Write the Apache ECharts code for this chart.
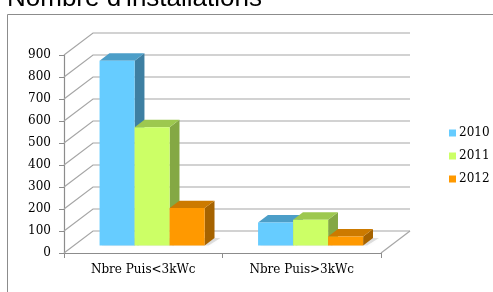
<!DOCTYPE html>
<html>
<head>
<meta charset="utf-8">
<script src="https://cdn.jsdelivr.net/npm/echarts@6/dist/echarts.min.js"></script>
<style>
  html, body { margin: 0; padding: 0; background: #fff; }
  #chart { width: 493px; height: 292px; }
</style>
</head>
<body>
<div id="chart"></div>
<script>
const categories = ['Nbre Puis<3kWc', 'Nbre Puis>3kWc'];
const years = ['2010', '2011', '2012'];
const values2010 = [840, 105];
const values2011 = [538, 117];
const values2012 = [170, 41];
const yTicks = [0, 100, 200, 300, 400, 500, 600, 700, 800, 900];

// couleurs : face avant, dessus, côté
const faceColors = ['#66CCFF', '#CCFF66', '#FF9900'];
const topColors = ['#4C9EC8', '#9DC84F', '#CC7A00'];
const sideColors = ['#3E7FA2', '#84A844', '#A66300'];

// profondeur 3D (pixels)
const depthX = 29;
const depthY = -22;
const d0 = 0.34, d1 = 0.68;

const chart = echarts.init(document.getElementById('chart'));

function gridRender(params, api) {
    const v = api.value(0);
    const a = api.coord([0, v]);
    const band = api.size([1, 0])[0];
    const x0 = a[0] - band / 2;
    const x1 = x0 + band * categories.length;
    const y = a[1];
    const children = [{
        type: 'polyline',
        shape: { points: [[x0, y], [x0 + depthX, y + depthY], [x1 + depthX, y + depthY]] },
        style: { stroke: '#a6a6a6', lineWidth: 1.2, fill: null }
    }];
    if (v === 0) {
        children.push({
            type: 'line',
            shape: { x1: x1, y1: y, x2: x1 + depthX, y2: y + depthY },
            style: { stroke: '#a6a6a6', lineWidth: 1.2 }
        });
    }
    return { type: 'group', children: children };
}

function makeBarRender(i) {
    return function (params, api) {
        const cat = api.value(0);
        const v = api.value(1);
        const p0 = api.coord([cat, 0]);
        const p1 = api.coord([cat, v]);
        const band = api.size([1, 0])[0];
        const w = band * 0.221;
        const x = p0[0] + (i - 1.5) * w - 1 + depthX * d0;
        const yb = p0[1] + depthY * d0;
        const yt = p1[1] + depthY * d0;
        const ddx = depthX * (d1 - d0);
        const ddy = depthY * (d1 - d0);
        return {
            type: 'group',
            children: [
                {
                    type: 'polygon',
                    shape: { points: [[x + 2, yb], [x + w + 4, yb], [x + w + ddx + 6, yb + ddy], [x + ddx + 4, yb + ddy]] },
                    style: { fill: 'rgba(0,0,0,0.12)', shadowBlur: 4, shadowColor: 'rgba(0,0,0,0.25)' }
                },
                {
                    type: 'polygon',
                    shape: { points: [[x + w, yt], [x + w + ddx, yt + ddy], [x + w + ddx, yb + ddy], [x + w, yb]] },
                    style: { fill: sideColors[i] }
                },
                {
                    type: 'polygon',
                    shape: { points: [[x, yt], [x + ddx, yt + ddy], [x + w + ddx, yt + ddy], [x + w, yt]] },
                    style: { fill: topColors[i] }
                },
                {
                    type: 'rect',
                    shape: { x: x, y: yt, width: w, height: yb - yt },
                    style: { fill: faceColors[i] }
                }
            ]
        };
    };
}

const seriesValues = [values2010, values2011, values2012];
const barSeries = years.map(function (name, i) {
    return {
        name: name,
        type: 'custom',
        renderItem: makeBarRender(i),
        itemStyle: { color: faceColors[i] },
        encode: { x: 0, y: 1 },
        data: seriesValues[i].map(function (v, c) { return [c, v]; }),
        z: 3
    };
});

const option = {
    animation: false,
    graphic: [
        {
            type: 'rect',
            shape: { x: 7.5, y: 14.5, width: 600, height: 400 },
            style: { fill: null, stroke: '#8c8c8c', lineWidth: 1 },
            silent: true
        },
        {
            type: 'text',
            x: 7,
            y: -1,
            style: {
                text: "Nombre d'installations",
                fontFamily: 'Liberation Sans',
                fontSize: 26,
                fill: '#000',
                verticalAlign: 'middle'
            }
        }
    ],
    legend: {
        data: years,
        orient: 'vertical',
        left: 444,
        top: 122,
        padding: 5,
        icon: 'rect',
        itemWidth: 7,
        itemHeight: 7,
        itemGap: 11,
        textStyle: { fontFamily: 'DejaVu Serif', fontSize: 12, color: '#000', padding: [0, 0, 0, -2] }
    },
    grid: { left: 64, right: 112, top: 55, bottom: 39 },
    xAxis: {
        type: 'category',
        data: categories,
        axisLine: { lineStyle: { color: '#8c8c8c', width: 1.2 } },
        axisTick: { show: true, length: 5, lineStyle: { color: '#8c8c8c' } },
        axisLabel: { fontFamily: 'DejaVu Serif', fontSize: 12, color: '#000', margin: 11 }
    },
    yAxis: {
        type: 'value',
        min: 0,
        max: 900,
        interval: 100,
        axisLine: { show: true, lineStyle: { color: '#8c8c8c', width: 1.2 } },
        axisTick: { show: true, length: 5, lineStyle: { color: '#8c8c8c' } },
        splitLine: { show: false },
        axisLabel: { fontFamily: 'DejaVu Serif', fontSize: 12, color: '#000', margin: 13 }
    },
    series: [
        {
            name: 'grille',
            type: 'custom',
            renderItem: gridRender,
            encode: { y: 0 },
            data: yTicks.map(function (v) { return [v]; }),
            silent: true,
            z: 1
        }
    ].concat(barSeries)
};
chart.setOption(option);
</script>
</body>
</html>
